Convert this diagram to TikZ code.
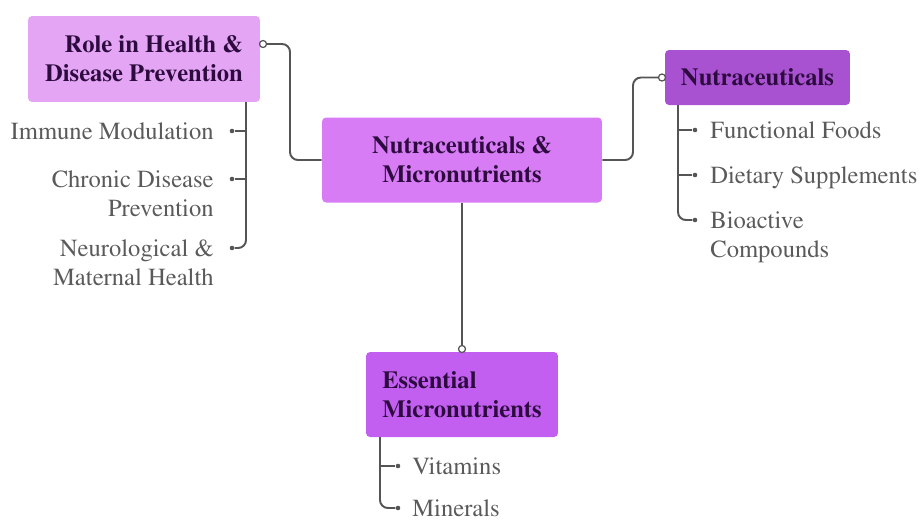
\documentclass[tikz,border=0pt]{standalone}
\usepackage[T1]{fontenc}
\usepackage{mathptmx}
\usepackage{xcolor}
\usetikzlibrary{arrows.meta, positioning}

\definecolor{rolefill}{HTML}{E4A6F4}
\definecolor{mainfill}{HTML}{D77CF5}
\definecolor{nutrafill}{HTML}{A852D2}
\definecolor{microfill}{HTML}{C25FF0}
\definecolor{boxtext}{HTML}{2D0B3F}
\definecolor{leaftext}{HTML}{5A5A5A}
\definecolor{linegray}{HTML}{555555}

\begin{document}
\begin{tikzpicture}[
    x=0.02cm, y=-0.02cm,
    box/.style={rectangle, rounded corners=2.3pt, inner sep=0, text=boxtext,
                font=\fontsize{14}{16.5}\selectfont\bfseries},
    leaf/.style={inner sep=0, text=leaftext, font=\fontsize{14}{16.5}\selectfont},
    link/.style={draw=linegray, line width=1.1pt, rounded corners=4.5pt},
    twig/.style={draw=linegray, line width=1.1pt, rounded corners=4.5pt},
    port/.style={circle, draw=linegray, fill=white, line width=0.7pt, inner sep=0, minimum size=4pt},
    dot/.style={circle, fill=linegray, inner sep=0, minimum size=2.6pt}
]
\useasboundingbox (0,0) rectangle (920,522);

% Main topic (center)
\node[box, fill=mainfill, minimum width=5.6cm, minimum height=1.7cm, align=center] (central) at (462,160)
    {Nutraceuticals \&\\Micronutrients};

% Role in Health (left)
\node[box, fill=rolefill, minimum width=4.64cm, minimum height=1.72cm, align=right] (role) at (144,59)
    {Role in Health \&\\Disease Prevention};

% Nutraceuticals (right)
\node[box, fill=nutrafill, minimum width=3.7cm, minimum height=1.1cm] (nutra) at (757.5,77.5)
    {Nutraceuticals};

% Essential Micronutrients (bottom)
\node[box, fill=microfill, minimum width=3.84cm, minimum height=1.7cm, align=left] (micro) at (462,394.5)
    {Essential\\Micronutrients};

% Links from the main topic
\node[port] (rport) at (263,44) {};
\node[port] (nport) at (662,77.5) {};
\node[port] (mport) at (462,349) {};
\coordinate (rbend) at (290,160);
\coordinate (nbend) at (633,160);
\draw[link] (rport.east) -| (rbend) -- (central.west);
\draw[link] (central.east) -- (nbend) |- (nport.west);
\draw[link] (central.south) -- (mport.north);

% Role leaves
\node[leaf, anchor=north east] (immune) at (214,122) {Immune Modulation};
\node[leaf, anchor=north east, align=right] (chronic) at (214,170) {Chronic Disease\\Prevention};
\node[leaf, anchor=north east, align=right] (neuro) at (214,239) {Neurological \&\\Maternal Health};
\coordinate (rtrunk) at (246,102);
\node[dot] (rd1) at (232,131) {};
\node[dot] (rd2) at (232,179) {};
\node[dot] (rd3) at (232,248) {};
\draw[twig] (rtrunk) |- (rd3);
\draw[twig] (rd1 -| rtrunk) -- (rd1);
\draw[twig] (rd2 -| rtrunk) -- (rd2);

% Nutraceuticals leaves
\node[leaf, anchor=north west] (foods) at (710,121) {Functional Foods};
\node[leaf, anchor=north west] (supps) at (710,166) {Dietary Supplements};
\node[leaf, anchor=north west, align=left] (bioact) at (710,211) {Bioactive\\Compounds};
\coordinate (ntrunk) at (678,105);
\node[dot] (nd1) at (695,130) {};
\node[dot] (nd2) at (695,175) {};
\node[dot] (nd3) at (695,220) {};
\draw[twig] (ntrunk) |- (nd3);
\draw[twig] (nd1 -| ntrunk) -- (nd1);
\draw[twig] (nd2 -| ntrunk) -- (nd2);

% Micronutrient leaves
\node[leaf, anchor=north west] (vits) at (412,457) {Vitamins};
\node[leaf, anchor=north west] (mins) at (412,499) {Minerals};
\coordinate (mtrunk) at (380,437);
\node[dot] (md1) at (398,466) {};
\node[dot] (md2) at (398,508) {};
\draw[twig] (mtrunk) |- (md2);
\draw[twig] (md1 -| mtrunk) -- (md1);

\end{tikzpicture}
\end{document}
